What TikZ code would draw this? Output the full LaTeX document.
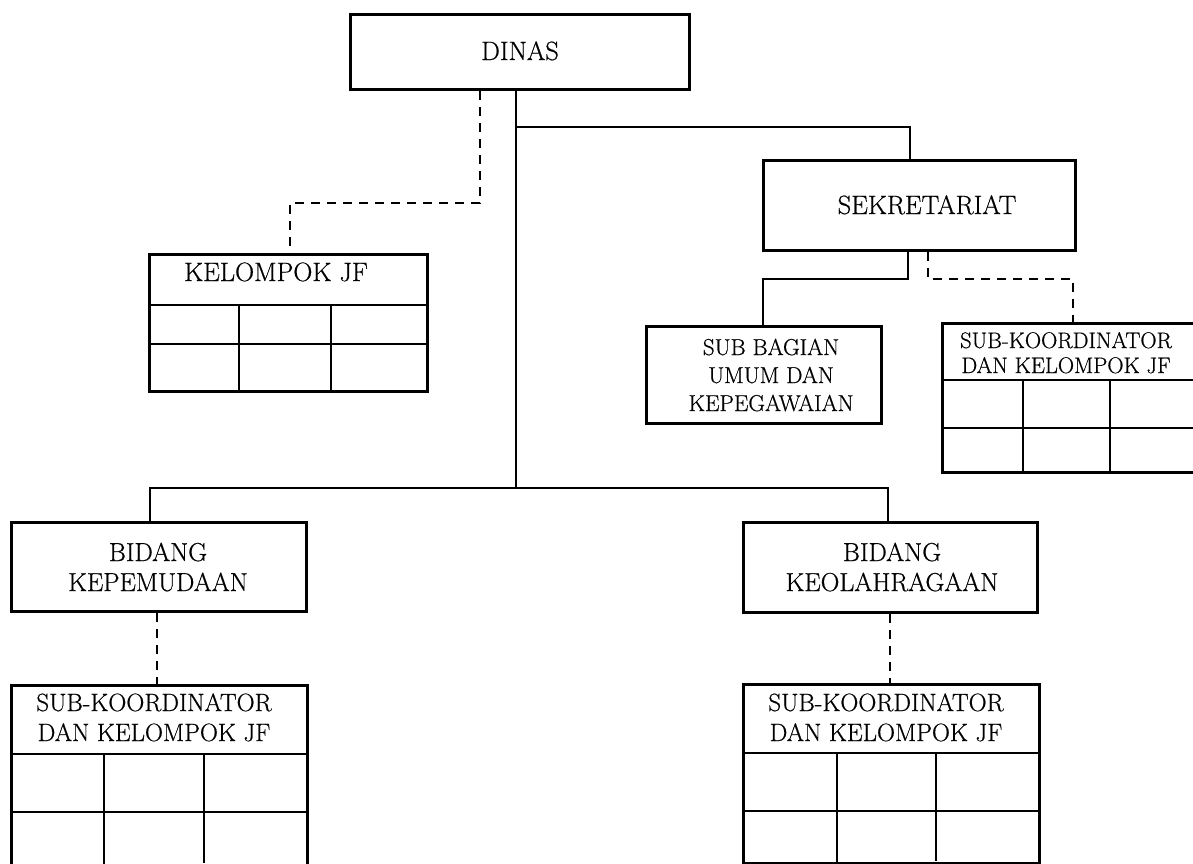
\documentclass[tikz,border=0pt]{standalone}
\usepackage{fontspec}
\setmainfont{Latin Modern Roman}[FakeBold=0.6]
\newcommand\jfgrid[6]{%
  \draw[grid] ([yshift=-#2pt]#1.north west) -- ([yshift=-#2pt]#1.north east);
  \draw[grid] ([yshift=-#3pt]#1.north west) -- ([yshift=-#3pt]#1.north east);
  \draw[grid] ([xshift=#4pt,yshift=-#2pt]#1.north west) -- ([xshift=#4pt]#1.south west);
  \draw[grid] ([xshift=#5pt,yshift=-#2pt]#1.north west) -- ([xshift=#5pt,yshift=#6pt]#1.south west);}
\begin{document}
\begin{tikzpicture}[x=1pt,y=-1pt,
  box/.style={draw, line width=2.8pt, inner sep=0pt, anchor=north west},
  conn/.style={line width=2.8pt},
  dconn/.style={line width=2.5pt, dash pattern=on 9pt off 7pt},
  grid/.style={line width=2.8pt},
  big/.style={font=\fontsize{26.5}{30}\selectfont, anchor=base, inner sep=0pt},
  bid/.style={font=\fontsize{26}{30}\selectfont, anchor=base, inner sep=0pt},
  subk/.style={font=\fontsize{25}{30}\selectfont, anchor=base, inner sep=0pt},
  sbut/.style={font=\fontsize{23}{28}\selectfont, anchor=base, inner sep=0pt},
  smallk/.style={font=\fontsize{22.5}{25}\selectfont, anchor=base, inner sep=0pt}]
\path[use as bounding box] (0,0) rectangle (1193,863);

% boxes
\node[box, minimum width=339pt, minimum height=75pt] (dinas) at (349,13) {};
\node[box, minimum width=278pt, minimum height=137pt] (kjf) at (148,253) {};
\node[box, minimum width=312pt, minimum height=90pt] (sek) at (762,159) {};
\node[box, minimum width=235pt, minimum height=97pt] (sbu) at (645,325) {};
\node[box, minimum width=262pt, minimum height=149pt] (sk1) at (941,322) {};
\node[box, minimum width=295pt, minimum height=89pt] (bk) at (10,521) {};
\node[box, minimum width=296pt, minimum height=200pt] (sk2) at (10,684) {};
\node[box, minimum width=294pt, minimum height=90pt] (bo) at (742,521) {};
\node[box, minimum width=296pt, minimum height=179pt] (sk3) at (742,683) {};

% table grids
\jfgrid{kjf}{52}{91}{91}{183}{0}
\jfgrid{sk1}{58}{106}{82}{169}{3}
\jfgrid{sk2}{70}{128}{94}{194}{24}
\jfgrid{sk3}{70}{128}{95}{194}{4}

% connectors
\coordinate (m) at (516,488);
\coordinate (t) at (516,127);
\coordinate (tx) at (910,127);
\draw[conn] (dinas.south -| m) -- (m);
\draw[conn] (t) -- (tx) -- (tx |- sek.north);

\coordinate (d1) at (480,203);
\coordinate (d2) at (290,203);
\draw[dconn] (dinas.south -| d1) -- (d1) -- (d2) -- (d2 |- kjf.north);

\coordinate (bl) at (150,488);
\coordinate (br) at (888,488);
\draw[conn] (bk.north -| bl) -- (bl) -- (br) -- (br |- bo.north);

\coordinate (dk) at (157,600);
\coordinate (do) at (890,600);
\draw[dconn] (bk.south -| dk) -- (sk2.north -| dk);
\draw[dconn] (bo.south -| do) -- (sk3.north -| do);

\coordinate (s1) at (908,279);
\coordinate (s2) at (763,279);
\draw[conn] (sek.south -| s1) -- (s1) -- (s2) -- (s2 |- sbu.north);
\coordinate (s3) at (928,279);
\coordinate (s4) at (1073,279);
\draw[dconn] (sek.south -| s3) -- (s3) -- (s4) -- (s4 |- sk1.north);

% texts
\node[big] (tdinas) at (520,60) {DINAS};
\node[big] (tsek) at (927,214) {SEKRETARIAT};
\node[big] (tkjf) at (276,281) {KELOMPOK JF};
\node[sbut] (tsbu1) at (771,355) {SUB BAGIAN};
\node[sbut] (tsbu2) at (771,383) {UMUM DAN};
\node[sbut] (tsbu3) at (771,411) {KEPEGAWAIAN};
\node[smallk] (tsk1a) at (1066,348) {SUB-KOORDINATOR};
\node[smallk] (tsk1b) at (1066,373) {DAN KELOMPOK JF};
\node[bid] (tbk1) at (158,561) {BIDANG};
\node[bid] (tbk2) at (158,591) {KEPEMUDAAN};
\node[subk] (tsk2a) at (154,711) {SUB-KOORDINATOR};
\node[subk] (tsk2b) at (154,741) {DAN KELOMPOK JF};
\node[bid] (tbo1) at (892,561) {BIDANG};
\node[bid] (tbo2) at (892,591) {KEOLAHRAGAAN};
\node[subk] (tsk3a) at (886,711) {SUB-KOORDINATOR};
\node[subk] (tsk3b) at (886,741) {DAN KELOMPOK JF};
\end{tikzpicture}
\end{document}
